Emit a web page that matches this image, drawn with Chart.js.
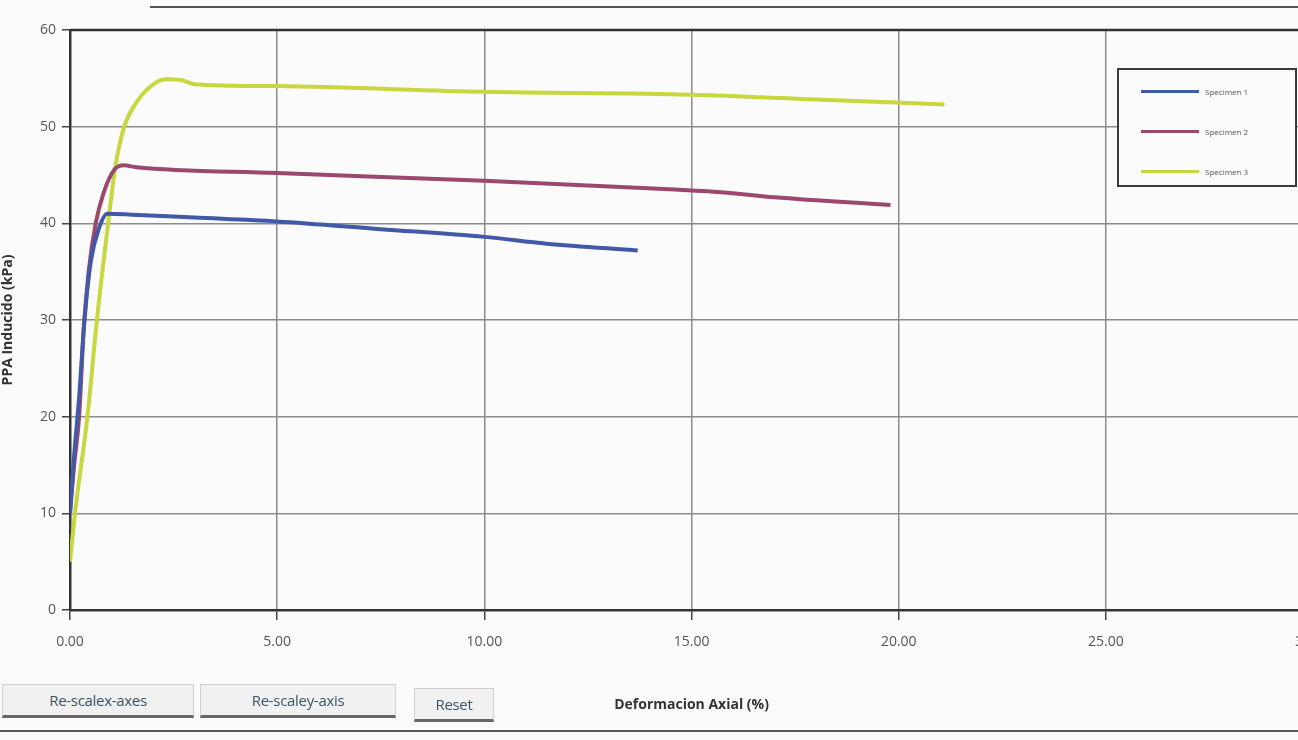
<!DOCTYPE html>
<html>
<head>
<meta charset="utf-8">
<script src="https://cdn.jsdelivr.net/npm/chart.js@4"></script>
<style>
  html, body { margin: 0; padding: 0; overflow: hidden; background: #fbfbfc; }
  #wrap { position: relative; width: 1345px; height: 740px; }
  #legendBox {
    position: absolute; left: 1117px; top: 68px; width: 176px; height: 115px;
    border: 2px solid #3a3a3a; background: #fbfbfc;
    font-family: 'Open Sans', sans-serif; font-size: 8px; color: #555;
  }
  .leg { position: absolute; left: 22px; height: 10px; display: flex; align-items: center; }
  .leg span.ln { display: inline-block; width: 58px; height: 3px; margin-right: 6px; }
  .btn {
    position: absolute; height: 34px; background: #f1f1f1; color: #3b5566;
    font-family: 'Open Sans', sans-serif; font-size: 15px; letter-spacing: -0.3px;
    border: 1px solid #cfcfcf; border-bottom: 3px solid #666; box-sizing: border-box;
    display: flex; align-items: center; justify-content: center;
  }
  .frame { position: absolute; border-top: 2px solid #555; height: 0; }
</style>
</head>
<body>
<div id="wrap">
  <canvas id="ppaChart" width="1345" height="740"></canvas>
  <div id="legendBox"></div>
  <div class="btn" style="left:2px; top:684px; width:192px;">Re-scalex-axes</div>
  <div class="btn" style="left:200px; top:684px; width:196px;">Re-scaley-axis</div>
  <div class="btn" style="left:414px; top:688px; width:80px;">Reset</div>
  <div class="frame" style="left:150px; top:6px; width:1150px;"></div>
  <div class="frame" style="left:0px; top:730px; width:1300px;"></div>
</div>
<script>
const seriesNames = ['Specimen 1', 'Specimen 2', 'Specimen 3'];
const seriesColors = ['#4259a8', '#9c476c', '#c6d83e'];

// Deformacion axial (%) / PPA inducido (kPa)
const spec1X = [0, 0.1, 0.22, 0.35, 0.5, 0.7, 0.9, 1.5, 3.0, 5.0, 7.5, 10.0, 11.5, 13.7];
const spec1Y = [10, 16, 22, 30, 36, 39.5, 41.0, 40.9, 40.6, 40.2, 39.4, 38.6, 37.9, 37.2];

const spec2X = [0, 0.1, 0.22, 0.33, 0.45, 0.62, 0.8, 1.06, 1.3, 1.6, 5.0, 10.0, 14.6, 15.8, 17.0, 19.8];
const spec2Y = [10, 15, 20, 29, 35, 40, 43, 45.5, 46.0, 45.8, 45.2, 44.4, 43.5, 43.2, 42.7, 41.9];

const spec3X = [0, 0.12, 0.42, 0.65, 0.92, 1.1, 1.31, 1.6, 1.9, 2.3, 2.7, 3.0, 5.0, 10.0, 15.0, 18.0, 21.1];
const spec3Y = [5, 10, 20, 30, 40, 46, 50, 52.5, 54.0, 54.9, 54.8, 54.4, 54.2, 53.6, 53.3, 52.8, 52.3];

const xTicks = [0, 5, 10, 15, 20, 25, 30];
const yTicks = [0, 10, 20, 30, 40, 50, 60];

const toPoints = (xs, ys) => xs.map((x, i) => ({ x: x, y: ys[i] }));
const seriesData = [toPoints(spec1X, spec1Y), toPoints(spec2X, spec2Y), toPoints(spec3X, spec3Y)];

const datasets = seriesNames.map((name, i) => ({
    label: name,
    data: seriesData[i],
    borderColor: seriesColors[i],
    backgroundColor: seriesColors[i],
    borderWidth: 4,
    pointRadius: 0,
    showLine: true,
    cubicInterpolationMode: 'monotone'
}));

const gridColor = '#8c8c8c';
const tickFont = { family: "'Open Sans', sans-serif", size: 14 };

const ctx = document.getElementById('ppaChart').getContext('2d');
const ppaChart = new Chart(ctx, {
    type: 'scatter',
    data: { datasets: datasets },
    options: {
        responsive: false,
        animation: false,
        layout: { padding: { top: 30, left: 0, right: 0, bottom: 0 } },
        plugins: { legend: { display: false }, tooltip: { enabled: false } },
        scales: {
            x: {
                type: 'linear',
                min: 0, max: 30,
                afterBuildTicks: (scale) => { scale.ticks = xTicks.map(v => ({ value: v })); },
                afterFit: (scale) => { scale.height = 130; },
                ticks: {
                    color: '#555', font: tickFont, padding: 14,
                    callback: (v) => Number(v).toFixed(2)
                },
                grid: { color: gridColor, lineWidth: 1.5, tickLength: 10, tickColor: '#444' },
                border: { color: '#333', width: 2.5 },
                title: {
                    display: true, text: 'Deformacion Axial (%)', color: '#333',
                    font: { family: "'Open Sans', sans-serif", size: 14, weight: 'bold' },
                    padding: { top: 10, bottom: 27 }
                }
            },
            y: {
                min: 0, max: 60,
                afterBuildTicks: (scale) => { scale.ticks = yTicks.map(v => ({ value: v })); },
                afterFit: (scale) => { scale.width = 70; },
                ticks: { color: '#555', font: tickFont, padding: 6 },
                grid: { color: gridColor, lineWidth: 1.5, tickLength: 8, tickColor: '#444' },
                border: { color: '#333', width: 2.5 },
                title: {
                    display: true, text: 'PPA Inducido (kPa)', color: '#333',
                    font: { family: "'Open Sans', sans-serif", size: 14, weight: 'bold' },
                    padding: { top: 0, bottom: -14 }
                }
            }
        }
    },
    plugins: [{
        id: 'topBorder',
        afterDraw: (chart) => {
            const a = chart.chartArea;
            const c = chart.ctx;
            c.save();
            c.strokeStyle = '#333';
            c.lineWidth = 2.5;
            c.beginPath();
            c.moveTo(a.left, a.top);
            c.lineTo(a.right, a.top);
            c.lineTo(a.right, a.bottom);
            c.stroke();
            c.restore();
        }
    }]
});

// legend built from the chart's datasets
const legendBox = document.getElementById('legendBox');
ppaChart.data.datasets.forEach((ds, i) => {
    const row = document.createElement('div');
    row.className = 'leg';
    row.style.top = (16 + i * 40) + 'px';
    row.innerHTML = '<span class="ln" style="background:' + ds.borderColor + '"></span>' + ds.label;
    legendBox.appendChild(row);
});
</script>
</body>
</html>
